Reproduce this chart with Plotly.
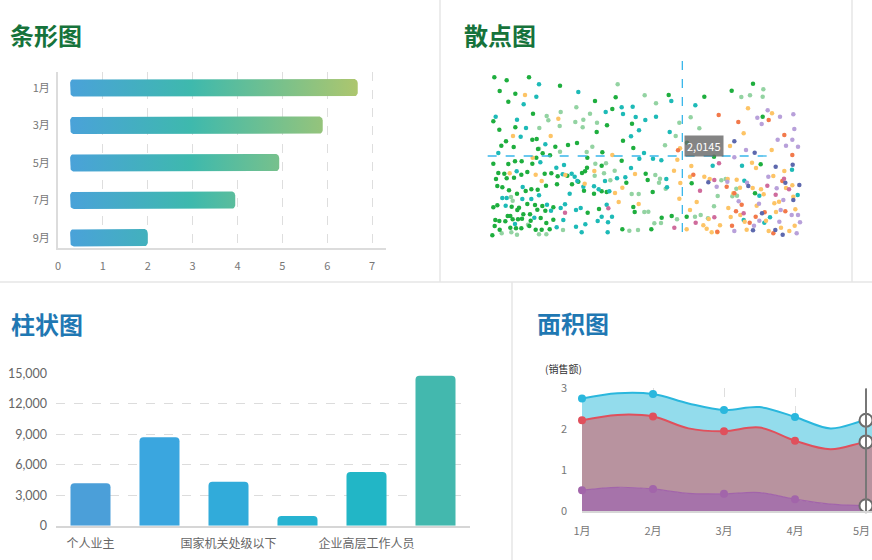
import numpy as np
import plotly.graph_objects as go

W, H = 872, 560
def px(x): return x / W
def py(y): return 1 - y / H

FONT = "Noto Sans CJK SC"

# ---------------- 条形图 data ----------------
bar_months = ['1月', '3月', '5月', '7月', '9月']
bar_values = [6.68, 5.9, 4.93, 3.95, 2.0]
bar_start = 0.27
bar_xticks = [0, 1, 2, 3, 4, 5, 6, 7]

# ---------------- 散点图 data ----------------
scatter_green = [(163,232),(200,241),(267,232),(179,273),(226,281),(205,305),(160,364),(178,389),(226,382),(279,341),(184,437),(198,424),(221,441),(277,419),(290,417),(294,447),(308,460),(330,466),(346,440),(384,435),(411,429),(360,257),(465,303),(527,292),(517,327),(501,376),(470,396),(487,457),(442,473),(545,482),(580,444),(576,371),(549,422),(686,285),(160,491),(175,519),(193,521),(205,492),(225,484),(245,484),(262,516),(277,491),(289,473),(314,521),(334,520),(353,529),(168,537),(200,535),(222,533),(244,524),(172,558),(187,562),(207,571),(231,581),(257,573),(274,568),(293,569),(318,557),(351,553),(160,622),(172,616),(215,620),(237,623),(262,612),(285,615),(307,618),(316,632),(340,622),(203,648),(211,648),(232,630),(250,643),(270,643),(292,629),(166,660),(178,663),(196,664),(218,658),(234,658),(246,656),(272,662),(302,654),(319,669),(340,659),(164,678),(179,689),(211,683),(228,685),(244,685),(268,678),(287,689),(305,689),(329,688),(157,706),(432,572),(462,581),(485,574),(500,576),(559,548),(580,621),(584,636),(617,521),(623,540),(638,576),(665,653),(695,648),(547,688),(634,688),(740,650),(755,550),(741,428),(793,290),(875,272),(939,251),(968,350),(962,493),(945,580),(822,470),(443,638),(477,627),(441,503),(426,519),(485,497),(382,527),(396,553),(415,545),(435,514)]
scatter_teal = [(297,253),(289,290),(251,313),(415,276),(167,350),(231,359),(258,384),(242,410),(316,433),(175,459),(301,487),(349,503),(372,495),(395,521),(412,543),(368,523),(389,581),(404,530),(430,560),(462,559),(476,568),(495,543),(500,614),(508,574),(531,535),(556,532),(573,504),(598,476),(612,459),(639,476),(664,481),(679,537),(681,562),(689,396),(694,303),(766,316),(545,322),(549,342),(578,320),(587,351),(616,360),(648,350),(573,409),(597,391),(497,336),(230,514),(248,561),(187,594),(200,594),(247,597),(274,597),(297,586),(321,614),(333,632),(362,624),(375,613),(408,630),(422,624),(370,660),(408,680),(436,673),(350,682),(473,663),(485,650),(504,667),(516,650),(425,697),(503,697),(197,617),(283,653),(225,672),(818,497),(906,497),(913,542),(958,587),(911,660),(973,668),(990,652),(1056,509),(1073,585)]
scatter_lightgreen = [(533,253),(614,286),(648,310),(409,322),(320,348),(325,361),(362,336),(359,378),(406,366),(430,359),(428,382),(450,341),(471,368),(298,384),(297,446),(360,455),(457,440),(440,456),(466,491),(464,527),(492,520),(511,541),(524,512),(498,490),(575,582),(596,582),(646,525),(660,536),(657,548),(677,566),(675,436),(707,408),(718,368),(752,352),(778,385),(904,291),(930,286),(970,268),(968,290),(213,591),(218,602),(231,704),(214,697),(185,700),(264,674),(297,703),(319,703),(369,690),(594,690),(568,692),(613,636),(625,635),(643,670),(663,669),(711,658),(782,645),(765,650),(804,655),(822,619),(833,588),(844,541),(857,537),(889,566),(891,587),(877,589)]
scatter_yellow = [(255,285),(355,356),(219,408),(332,408),(278,473),(209,520),(287,524),(305,543),(376,525),(434,551),(463,513),(517,465),(525,579),(547,563),(536,606),(585,522),(596,612),(702,512),(712,479),(721,549),(718,596),(750,530),(754,498),(793,530),(809,537),(750,630),(770,606),(790,676),(800,686),(815,697),(832,697),(806,657),(840,676),(863,537),(880,580),(865,624),(872,651),(890,539),(900,563),(901,645),(914,665),(920,689),(936,488),(938,564),(948,504),(950,617),(963,568),(971,583),(978,662),(986,693),(995,450),(1000,528),(1003,610),(1008,636),(1017,605),(1023,683),(1033,513),(1038,564),(1048,693),(1057,556),(1060,590),(1066,628),(1064,677),(996,340),(924,325),(870,438),(911,400),(720,445),(740,688)]
scatter_orange = [(836,345),(895,366),(986,360),(1033,405),(1057,465),(714,451),(760,524),(888,634),(860,560),(883,580),(929,668),(947,650),(974,637),(1000,700),(1036,634),(876,677),(832,695),(905,614),(1027,543)]
scatter_lilac = [(983,331),(952,353),(965,372),(1020,350),(1060,343),(1063,387),(1013,419),(1057,419),(1074,440),(1038,437),(918,450),(883,472),(830,560),(862,545),(896,604),(921,548),(958,662),(985,530),(1010,565),(1022,630),(1030,600),(1055,645),(1074,645),(1080,667),(1070,700),(1018,665),(883,693),(957,611),(942,677)]
scatter_slate = [(883,424),(944,458),(1058,494),(1007,500),(805,547),(925,558),(1078,555),(1060,600),(939,691),(1028,704),(1006,690),(966,640),(1036,548)]
scatter_pink = [(375,638),(505,625),(703,683),(837,490),(823,540),(780,572),(823,652),(911,640),(1007,584),(1032,536),(982,557),(1047,568),(767,668)]
scatter_tooltip = "2,0145"

# ---------------- 柱状图 data ----------------
col_categories = ['个人业主', '私营企业主', '国家机关处级以下', '企业一般工作人员', '企业高层工作人员', '其他']
col_values = [4170, 8700, 4330, 950, 5280, 14750]
col_yticks = [0, 3000, 6000, 9000, 12000, 15000]

# ---------------- 面积图 data (curve read at half-month steps) ----------------
area_x = [0, 0.5, 1, 1.5, 2, 2.5, 3, 3.5, 4, 4.5]
area_months = ['1月', '2月', '3月', '4月', '5月']
sales_cyan = [2.75, 2.88, 2.86, 2.63, 2.47, 2.54, 2.30, 2.02, 2.22, 2.30]
sales_red = [2.22, 2.35, 2.31, 2.02, 1.95, 2.04, 1.72, 1.51, 1.69, 1.78]
sales_purple = [0.51, 0.58, 0.54, 0.43, 0.42, 0.45, 0.29, 0.17, 0.13, 0.10]
area_yticks = [0, 1, 2, 3]

fig = go.Figure()

# ================= 条形图 =================
grad = [[0.0, '#4aa2d9'], [0.42, '#3eb9ad'], [0.7, '#72c08f'], [1.0, '#adc66e']]
rx, ry, half = 0.09, 0.11, 0.235

def rounded_rect(x0, x1, yc, h, rx, ry, n=7):
    y0, y1 = yc - h, yc + h
    xs, ys = [], []
    for cx, cy, a0 in [(x1 - rx, y1 - ry, 0), (x0 + rx, y1 - ry, 90),
                       (x0 + rx, y0 + ry, 180), (x1 - rx, y0 + ry, 270)]:
        for a in np.linspace(np.radians(a0), np.radians(a0 + 90), n):
            xs.append(cx + rx * np.cos(a))
            ys.append(cy + ry * np.sin(a))
    xs.append(xs[0]); ys.append(ys[0])
    return xs, ys

n_bars = len(bar_months)
for i, (m, v) in enumerate(zip(bar_months, bar_values)):
    yc = n_bars - 1 - i
    xs, ys = rounded_rect(bar_start, v, yc, half, rx, ry)
    fig.add_trace(go.Scatter(
        x=xs, y=ys, mode='lines', line=dict(width=0), fill='toself',
        fillgradient=dict(type='horizontal', colorscale=grad,
                          start=bar_start, stop=max(bar_values)),
        hoverinfo='skip', showlegend=False, xaxis='x', yaxis='y'))

# ================= 散点图 =================
groups = [
    (scatter_lightgreen, '#93d3a2'),
    (scatter_green, '#1eae3e'),
    (scatter_teal, '#1dbab7'),
    (scatter_yellow, '#fdc466'),
    (scatter_orange, '#f2794a'),
    (scatter_lilac, '#b8a0da'),
    (scatter_slate, '#5d68ad'),
    (scatter_pink, '#cf6b9c'),
]
for pts, col in groups:
    fig.add_trace(go.Scatter(
        x=[p[0] for p in pts], y=[p[1] for p in pts], mode='markers',
        marker=dict(size=4.5, color=col, line=dict(width=0)),
        hoverinfo='skip', showlegend=False, xaxis='x2', yaxis='y2'))

# ================= 柱状图 =================
col_colors = ['#4b9fd9', '#3aa6df', '#31abda', '#27b3d1', '#22b6c6', '#43b8ae']
fig.add_trace(go.Bar(
    x=list(range(len(col_categories))), y=col_values,
    marker=dict(color=col_colors, cornerradius=4, line=dict(width=0)),
    width=0.58, hoverinfo='skip', showlegend=False, xaxis='x3', yaxis='y3'))

# ================= 面积图 =================
area_series = [
    (sales_purple, '#a265aa', '#a673aa', 'tozeroy', 1.2),
    (sales_red, '#e0505c', '#b8939f', 'tonexty', 2),
    (sales_cyan, '#2ab7dd', '#93dcec', 'tonexty', 2),
]
for vals, line_c, fill_c, fill_mode, lw in area_series:
    fig.add_trace(go.Scatter(
        x=area_x, y=vals, mode='lines',
        line=dict(color=line_c, width=lw, shape='spline', smoothing=1.0),
        fill=fill_mode, fillcolor=fill_c,
        hoverinfo='skip', showlegend=False, xaxis='x4', yaxis='y4'))

month_idx = [area_x.index(m) for m in range(len(area_months) - 1)]
for vals, line_c, _, _, _ in area_series:
    fig.add_trace(go.Scatter(
        x=[area_x[i] for i in month_idx], y=[vals[i] for i in month_idx],
        mode='markers', cliponaxis=False,
        marker=dict(size=8, color=line_c, opacity=1, line=dict(width=0)),
        hoverinfo='skip', showlegend=False, xaxis='x4', yaxis='y4'))

i5 = area_x.index(4)
fig.add_trace(go.Scatter(
    x=[4, 4, 4], y=[sales_cyan[i5], sales_red[i5], sales_purple[i5]],
    mode='markers', cliponaxis=False,
    marker=dict(size=13, color='white', line=dict(color='#6b6b6b', width=2)),
    hoverinfo='skip', showlegend=False, xaxis='x4', yaxis='y4'))

tickfont = dict(family=FONT, size=11, color='#777')

area_left, area_ppu = 582, 71.0
area_xmax = (872 - area_left) / area_ppu
# last month label sits at the page edge: drawn as a right-aligned annotation
area_ticktext = area_months[:-1] + ['']

fig.update_layout(
    width=W, height=H, margin=dict(l=0, r=0, t=0, b=0, pad=0, autoexpand=False),
    paper_bgcolor='white', plot_bgcolor='rgba(0,0,0,0)',
    font=dict(family=FONT), showlegend=False, hovermode=False,
    # 条形图
    xaxis=dict(domain=[px(58), px(386)], range=[0, 7.31], tickvals=bar_xticks,
               showgrid=True, gridcolor='#dedede', griddash='dash', gridwidth=1,
               zeroline=False, showline=True, linecolor='#dcdcdc', linewidth=2,
               tickfont=tickfont, ticks='', ticklabelstandoff=6, anchor='y',
               automargin=False, fixedrange=True),
    yaxis=dict(domain=[py(248.3), py(72)], range=[-0.283, 4.42],
               tickvals=list(range(n_bars)), ticktext=bar_months[::-1],
               showgrid=False, zeroline=False, showline=True,
               linecolor='#dcdcdc', linewidth=2, tickfont=tickfont, ticks='',
               ticklabelstandoff=4, anchor='x', automargin=False, fixedrange=True),
    # 散点图
    xaxis2=dict(domain=[px(480), px(810)], range=[120, 1110], visible=False,
                anchor='y2', automargin=False, fixedrange=True),
    yaxis2=dict(domain=[py(245), py(55)], range=[735, 165], visible=False,
                anchor='x2', automargin=False, fixedrange=True),
    # 柱状图
    xaxis3=dict(domain=[px(56), px(470)], range=[-0.5, 5.5],
                tickvals=[0, 2, 4], ticktext=col_categories[0::2],
                showgrid=False, zeroline=False, showline=True,
                linecolor='#d6d6d6', linewidth=2, ticks='',
                tickfont=dict(family=FONT, size=12, color='#666'),
                ticklabelstandoff=6, anchor='y3', automargin=False, fixedrange=True),
    yaxis3=dict(domain=[py(525.7), py(373.3)], range=[0, 15000],
                tickvals=col_yticks, tickformat=',d',
                showgrid=True, gridcolor='#dcdcdc', griddash='dash', gridwidth=1,
                zeroline=False, showline=False, ticks='',
                tickfont=dict(family='Lato', size=12.5, color='#666'),
                ticklabelstandoff=8, anchor='x3', automargin=False, fixedrange=True),
    # 面积图
    xaxis4=dict(domain=[px(area_left), 1], range=[0, area_xmax],
                tickvals=list(range(len(area_months))), ticktext=area_ticktext,
                showgrid=True, gridcolor='#dedede', griddash='dash', gridwidth=1,
                zeroline=False, showline=True, linecolor='#d6d6d6', linewidth=2,
                ticks='', tickfont=tickfont, ticklabelstandoff=9,
                anchor='y4', automargin=False, fixedrange=True),
    yaxis4=dict(domain=[py(511), py(388.3)], range=[0, 3],
                tickvals=area_yticks,
                showgrid=True, gridcolor='#dedede', griddash='dash', gridwidth=1,
                zeroline=False, showline=False, ticks='', tickfont=tickfont,
                ticklabelstandoff=14, anchor='x4', automargin=False, fixedrange=True),
)

fig.add_annotation(xref='paper', yref='paper', x=1, y=py(530), text=area_months[-1],
                   xanchor='right', yanchor='middle', showarrow=False,
                   font=tickfont)

# panel separators
sep = dict(type='line', xref='paper', yref='paper', layer='below',
           line=dict(color='#e6e6e6', width=1.5))
fig.add_shape(x0=px(440), x1=px(440), y0=py(0), y1=py(282), **sep)
fig.add_shape(x0=px(852), x1=px(852), y0=py(0), y1=py(282), **sep)
fig.add_shape(x0=0, x1=1, y0=py(282), y1=py(282), **sep)
fig.add_shape(x0=px(512), x1=px(512), y0=py(282), y1=py(560), **sep)

# scatter crosshair
cross = dict(color='#38b6ea', width=1.3, dash='dash')
fig.add_shape(type='line', xref='x2', yref='y2', x0=727, x1=727, y0=183, y1=712, line=cross)
fig.add_shape(type='line', xref='x2', yref='y2', x0=143, x1=1005, y0=468, y1=468, line=cross)
fig.add_annotation(xref='x2', yref='y2', x=792, y=438, text=scatter_tooltip,
                   showarrow=False, bgcolor='rgba(105,105,105,0.82)',
                   font=dict(family=FONT, size=11, color='white'), borderpad=2)

# area hover line
fig.add_shape(type='line', xref='x4', yref='y4', x0=4, x1=4, y0=0, y1=3,
              line=dict(color='#777', width=2))
fig.add_annotation(xref='paper', yref='paper', x=px(563), y=py(377.7),
                   text='(销售额)', showarrow=False,
                   font=dict(family=FONT, size=10, color='#333'))

# titles
titles = [('条形图', 8, 34, '#16733b'), ('散点图', 462, 34.5, '#16733b'),
          ('柱状图', 9, 323.5, '#1f78b3'), ('面积图', 535, 322, '#1f78b3')]
for t, x, y, c in titles:
    fig.add_annotation(xref='paper', yref='paper', x=px(x), y=py(y), text='<b>' + t + '</b>',
                       xanchor='left', yanchor='middle', showarrow=False,
                       font=dict(family=FONT, size=24, color=c))

fig.write_html("out.html")
